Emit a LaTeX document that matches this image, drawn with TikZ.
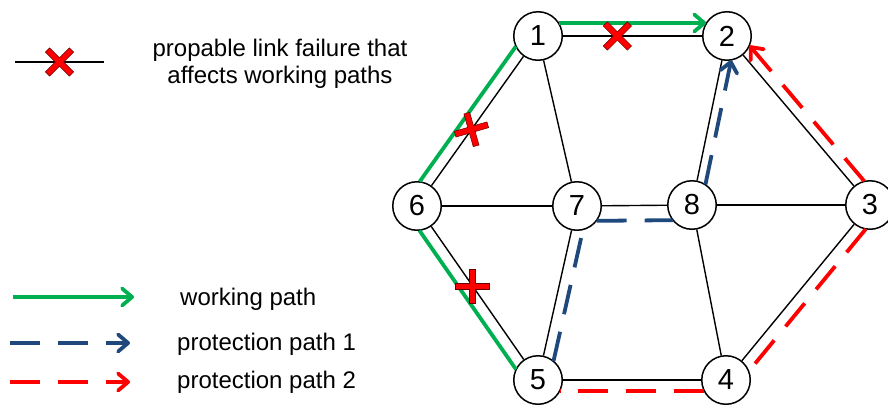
\documentclass[tikz,border=0pt]{standalone}
\usepackage{fontspec}
\setmainfont{Liberation Sans}
\usetikzlibrary{calc,arrows.meta}
\definecolor{pgreen}{RGB}{0,176,80}
\definecolor{pblue}{RGB}{31,73,125}
\definecolor{pred}{RGB}{255,0,0}
\definecolor{xline}{RGB}{100,0,0}
% offset segment from node #2 to node #3, offset #4 (pt), cut #5 (pt) from centres
\newcommand\lseg[5]{\draw[#1] ($(#2)!#5pt!(#3)!#4pt!90:(#3)$) -- ($(#3)!#5pt!(#2)!#4pt!-90:(#2)$);}
\newcommand\rseg[5]{\draw[#1] ($(#2)!#5pt!(#3)!#4pt!-90:(#3)$) -- ($(#3)!#5pt!(#2)!#4pt!90:(#2)$);}
\tikzset{
  vtx/.style={circle, draw, line width=1.5pt, fill=white, minimum size=48.5pt, inner sep=0pt,
    font=\fontsize{29}{29}\selectfont},
  edge/.style={line width=1.4pt},
  gpath/.style={pgreen, line width=3.8pt},
  bpath/.style={pblue, line width=3.8pt, dash pattern=on 30pt off 18pt},
  rpath/.style={pred, line width=3.8pt, dash pattern=on 30pt off 18pt},
  tip/.style={-{Straight Barb[length=10pt,width=17pt,round]}},
  lbl/.style={inner sep=0pt, font=\fontsize{24}{27}\selectfont},
  failx/.pic={\filldraw[fill=pred, draw=xline, line width=0.5pt]
    (17,3)--(3,3)--(3,17)--(-3,17)--(-3,3)--(-17,3)--(-17,-3)--(-3,-3)--(-3,-17)--(3,-17)--(3,-3)--(17,-3)--cycle;}
}
\begin{document}
\begin{tikzpicture}[x=1pt,y=-1pt]
\useasboundingbox (0,0) rectangle (888,407);
% nodes
\node[vtx] (n1) at (538,36) {1};
\node[vtx] (n2) at (727,36) {2};
\node[vtx] (n3) at (870,205) {3};
\node[vtx] (n4) at (726,380) {4};
\node[vtx] (n5) at (538,380) {5};
\node[vtx] (n6) at (417,206) {6};
\node[vtx] (n7) at (577,206) {7};
\node[vtx] (n8) at (692,205) {8};
% links
\foreach \a/\b in {n1/n2,n1/n6,n1/n7,n2/n8,n2/n3,n6/n7,n7/n8,n8/n3,n6/n5,n7/n5,n8/n4,n5/n4,n4/n3}
  \draw[edge] (\a) -- (\b);
% working path 5-6-1-2
\lseg{gpath}{n5}{n6}{12}{21.4}
\lseg{gpath}{n6}{n1}{12}{21.4}
\lseg{gpath,tip}{n1}{n2}{13}{20.8}
% protection path 1: 5-7-8-2
\rseg{bpath}{n5}{n7}{11}{21.9}
\rseg{bpath}{n7}{n8}{15}{19.4}
\rseg{bpath,tip}{n8}{n2}{9}{22.8}
% protection path 2: 5-4-3-2
\lseg{rpath}{n4}{n5}{11}{21.9}
\lseg{rpath}{n3}{n4}{12}{21.4}
\rseg{rpath,tip}{n3}{n2}{11}{21.9}
% failures
\pic[rotate=45] at ($(n1)!0.42!(n2)$) {failx};
\pic[rotate=16] at ($(n6)!0.45!(n1)$) {failx};
\pic at ($(n6)!0.46!(n5)$) {failx};
% legend
\coordinate (lx1) at (15,62);
\coordinate (lx2) at (104,62);
\draw[edge] (lx1) -- (lx2);
\pic[rotate=45] at ($(lx1)!0.5!(lx2)$) {failx};
\node[lbl, align=center, anchor=base] (tfail) at (280,83) {propable link failure that\\affects working paths};
\coordinate (lg1) at (13,297);
\coordinate (lg2) at (134,297);
\draw[gpath,tip] (lg1) -- (lg2);
\node[lbl, anchor=base west] (tg) at (180,305) {working path};
\coordinate (lb1) at (10,343);
\coordinate (lb2) at (130,343);
\draw[bpath,tip] (lb1) -- (lb2);
\node[lbl, anchor=base west] (tb) at (177,350) {protection path 1};
\coordinate (lr1) at (10,382);
\coordinate (lr2) at (130,382);
\draw[rpath,tip] (lr1) -- (lr2);
\node[lbl, anchor=base west] (tr) at (177,388) {protection path 2};
\end{tikzpicture}
\end{document}
